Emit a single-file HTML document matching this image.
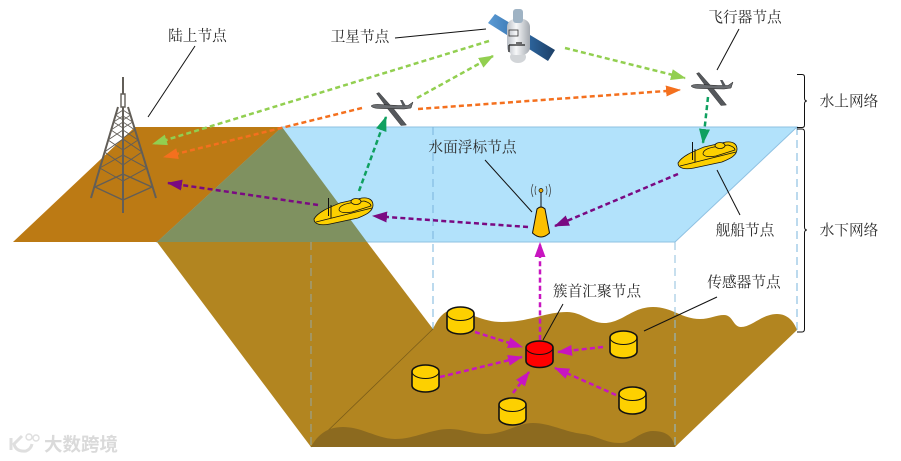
<!DOCTYPE html>
<html><head><meta charset="utf-8">
<style>
html,body{margin:0;padding:0;background:#fff;width:901px;height:461px;overflow:hidden}
svg{display:block;filter:blur(.35px)}
.t{font-family:"Liberation Serif","Noto Serif CJK SC",serif;font-size:14.700px;fill:#2c2c2c;text-anchor:middle}
.d{fill:none;stroke-width:2.500;stroke-dasharray:5 3.200}
.b{fill:none;stroke:#111;stroke-width:1}
</style></head><body>
<svg width="901" height="461" viewBox="0 0 901 461" xmlns="http://www.w3.org/2000/svg">
<defs>
<marker id="mL" markerUnits="userSpaceOnUse" markerWidth="16" markerHeight="12" refX="14" refY="5.500" orient="auto"><path d="M0 0L15 5.500L0 11Z" fill="#92cf50"/></marker>
<marker id="mO" markerUnits="userSpaceOnUse" markerWidth="16" markerHeight="12" refX="14" refY="5.500" orient="auto"><path d="M0 0L15 5.500L0 11Z" fill="#f4701e"/></marker>
<marker id="mG" markerUnits="userSpaceOnUse" markerWidth="16" markerHeight="12" refX="14" refY="5.500" orient="auto"><path d="M0 0L15 5.500L0 11Z" fill="#0fa060"/></marker>
<marker id="mP" markerUnits="userSpaceOnUse" markerWidth="16" markerHeight="12" refX="14" refY="5.500" orient="auto"><path d="M0 0L15 5.500L0 11Z" fill="#7a0a82"/></marker>
<marker id="mM" markerUnits="userSpaceOnUse" markerWidth="16" markerHeight="12" refX="14" refY="5.500" orient="auto"><path d="M0 0L15 5.500L0 11Z" fill="#c815c0"/></marker>
<linearGradient id="pan" x1="0" y1="0" x2="1" y2="0"><stop offset="0" stop-color="#5b9bd5"/><stop offset=".55" stop-color="#2f6aa5"/><stop offset="1" stop-color="#1d3f66"/></linearGradient>
<linearGradient id="bod" x1="0" y1="0" x2="1" y2="0"><stop offset="0" stop-color="#b8bdc4"/><stop offset=".4" stop-color="#f7f8f9"/><stop offset="1" stop-color="#a3a8af"/></linearGradient>
<g id="plane">
<path d="M376.500 93.500L379 92.500L391 106L393 108L406.500 125L401 125.500L387 108Z" fill="#55585c" stroke="#222" stroke-width=".4"/>
<path d="M371 106Q373 104 380 104.500L398 105.500L408 105.500L413 102L411 108L404 109L380 108.500Q373 108.500 371 106Z" fill="#6b6e72" stroke="#222" stroke-width=".5"/>
<path d="M400 100L402.500 100L406 106L403 106.500Z" fill="#55585c"/>
</g>
<g id="ship" stroke="#111" stroke-width=".8">
<path d="M314 219C318 212 328 208 340 203L362 198C370 197 373 201 373 205C373 212 365 215 358 218L330 224C320 226 314 224 314 219Z" fill="#fdd000"/>
<path d="M316 222L372 208" fill="none"/>
<path d="M339 210Q339 205 350 203L364 201Q371 203 371 206L352 212Q341 214 339 210Z" fill="#fdd000"/>
<ellipse cx="356" cy="201.500" rx="5" ry="3" fill="#fdd000"/>
<path d="M328.500 198V216M331 205V218" fill="none" stroke-width="1"/>
</g>
<g id="cyl">
<path d="M0 6.500V20.500C0 24 6 27 13.500 27S27 24 27 20.500V6.500C27 3 21 0 13.500 0S0 3 0 6.500Z" fill="#fdd000" stroke="#111" stroke-width="1.600"/>
<path d="M0 6.500C0 10.500 6 13.500 13.500 13.500S27 10.500 27 6.500" fill="none" stroke="#111" stroke-width="1"/>
</g>
</defs>

<rect width="901" height="461" fill="#fff"/>

<!-- water -->
<polygon points="282,127 797,127 675,242 157,242" fill="#b2e2fb" stroke="#8fc1e2" stroke-width="1"/>
<!-- land -->
<polygon points="135,127 282,127 157,242 13,242" fill="#bc7a14"/>
<!-- slope -->
<polygon points="157,242 367,242 433,329 311,447" fill="#b28520"/>
<!-- overlap -->
<polygon points="282,127 367,242 157,242" fill="#7f9160"/>

<!-- seabed -->
<path d="M311 447L433 329C438 318 444 311 452 310C470 312 482 322 502 322C530 322 545 312 567 312C582 312 590 323 604 323C622 323 632 307 653 307C672 307 682 319 700 319C710 319 716 315 724 315C733 315 733 327 741 327C752 327 762 314 777 314C788 314 794 322 797 330L675 447Z" fill="#b28520"/>
<path d="M311 447L433 329" stroke="#7a5c18" stroke-width=".8" fill="none"/>
<path d="M311 447C318 434 328 427 343 427C362 427 378 439 395 439C415 439 430 429 450 429C462 429 472 434 486 434C505 434 518 423 533 423C550 423 565 432 583 434C598 436 605 443 620 443C632 443 640 431 653 431C668 431 673 438 675 447Z" fill="#8c6a1f"/>

<!-- dashed verticals -->
<path d="M311 242V447" stroke="#a09a72" stroke-width="1.600" stroke-dasharray="8 5" fill="none"/>
<path d="M433 127V329" stroke="#79b4dc" stroke-width="1" stroke-dasharray="8 5" fill="none"/>
<path d="M675 242V447" stroke="#8fbfdc" stroke-width="1" stroke-dasharray="8 5" fill="none"/>
<path d="M797 127V330" stroke="#79b4dc" stroke-width="1" stroke-dasharray="8 5" fill="none"/>

<!-- braces -->
<path d="M797 74.500H802Q804.500 74.500 804.500 77V98Q804.500 101 807 101Q804.500 101 804.500 104V125Q804.500 127.500 802 127.500H797" class="b"/>
<path d="M797 129H802Q804.500 129 804.500 132V227Q804.500 230 807 230Q804.500 230 804.500 233V329Q804.500 332 802 332H797" class="b"/>

<!-- tower -->
<g fill="none" stroke="#625e58">
<path d="M123 77V94" stroke-width="2"/>
<path d="M121 94H125V107H121Z" stroke-width="1.400"/>
<path d="M118 107L91 198M128 107L156 198M123 107V213" stroke-width="2"/>
<path d="M95 187L123 200L152 187M95 187L123 174L152 187" stroke-width="1.300"/>
<path d="M99.700 168L123 181L147 168M99.700 168L123 155L147 168" stroke-width="1"/>
<path d="M104.500 152L123 165L142 152M104.500 152L123 139L142 152" stroke-width="1"/>
<path d="M108 140L123 150L138 140M108 140L123 130L138 140" stroke-width=".9"/>
<path d="M111 130L123 138L135 130M111 130L123 122L135 130" stroke-width=".8"/>
<path d="M113.500 122L123 128L132.700 122M113.500 122L123 116L132.700 122" stroke-width=".8"/>
<path d="M115.600 115L123 120L130.500 115M115.600 115L123 110L130.500 115" stroke-width=".8"/>
</g>

<!-- leader lines -->
<g stroke="#111" stroke-width="1" fill="none">
<path d="M195 46L148 117"/>
<path d="M395 38L486 29"/>
<path d="M739 29L717 70"/>
<path d="M485 160L532 212"/>
<path d="M717 170L740 215"/>
<path d="M563 304L543 340"/>
<path d="M717 297L644 331"/>
</g>

<!-- arrows -->
<path d="M489 41L153 144" class="d" stroke="#92cf50" marker-end="url(#mL)"/>
<path d="M417 98L493 56" class="d" stroke="#92cf50" marker-end="url(#mL)"/>
<path d="M565 48L685 78" class="d" stroke="#92cf50" marker-end="url(#mL)"/>
<path d="M362 108L164 157" class="d" stroke="#f4701e" marker-end="url(#mO)"/>
<path d="M418 109L680 90" class="d" stroke="#f4701e" marker-end="url(#mO)"/>
<path d="M359 191L386 117" class="d" stroke="#0fa060" marker-end="url(#mG)"/>
<path d="M708 97L703 143" class="d" stroke="#0fa060" marker-end="url(#mG)"/>
<path d="M318 205L168 183" class="d" stroke="#7a0a82" marker-end="url(#mP)"/>
<path d="M528 227L373 216" class="d" stroke="#7a0a82" marker-end="url(#mP)"/>
<path d="M678 174L555 226" class="d" stroke="#7a0a82" marker-end="url(#mP)"/>
<path d="M475 332L522 347" class="d" stroke="#c815c0" marker-end="url(#mM)"/>
<path d="M440 377L522 357" class="d" stroke="#c815c0" marker-end="url(#mM)"/>
<path d="M513 393L529 372" class="d" stroke="#c815c0" marker-end="url(#mM)"/>
<path d="M616 395L555 368" class="d" stroke="#c815c0" marker-end="url(#mM)"/>
<path d="M603 347L558 352" class="d" stroke="#c815c0" marker-end="url(#mM)"/>
<path d="M540 340L540 243" class="d" stroke="#c815c0" marker-end="url(#mM)"/>

<!-- satellite -->
<polygon points="488,23 495,14 555,50 548,61" fill="url(#pan)"/>
<ellipse cx="518" cy="57" rx="8" ry="6" fill="#d2d5d8"/>
<rect x="507" y="19" width="23" height="36" rx="8" fill="url(#bod)"/>
<rect x="513" y="9" width="10" height="14" rx="3" fill="#9fb3c4"/>
<rect x="509" y="30" width="9" height="6" fill="none" stroke="#333" stroke-width=".8"/>
<path d="M509 45H525M509 45V52M516 43H522" stroke="#222" stroke-width="1.300" fill="none"/>

<!-- aircraft -->
<use href="#plane"/>
<use href="#plane" x="320" y="-20"/>

<!-- ships -->
<use href="#ship"/>
<use href="#ship" x="364" y="-56"/>

<!-- buoy -->
<path d="M537 209Q541 205 545 209L549.500 233Q541 241 532.500 233Z" fill="#fdc000" stroke="#111" stroke-width="1"/>
<path d="M541 207V192" stroke="#111" stroke-width="1"/>
<circle cx="541" cy="190.500" r="2" fill="#e8a800" stroke="#111" stroke-width=".7"/>
<path d="M536 186Q534 190.500 536 195M546 186Q548 190.500 546 195M533 184Q530 190.500 533 197M549 184Q552 190.500 549 197" fill="none" stroke="#333" stroke-width=".7"/>

<!-- cylinders -->
<use href="#cyl" x="447" y="307"/>
<use href="#cyl" x="610" y="331"/>
<use href="#cyl" x="412" y="365"/>
<use href="#cyl" x="499" y="398"/>
<use href="#cyl" x="619" y="387"/>
<g transform="translate(526,341)">
<path d="M0 6.500V20C0 23.500 6 26.500 13.500 26.500S27 23.500 27 20V6.500C27 3 21 0 13.500 0S0 3 0 6.500Z" fill="#f00" stroke="#111" stroke-width="1.600"/>
<path d="M0 6.500C0 10.500 6 13.500 13.500 13.500S27 10.500 27 6.500" fill="none" stroke="#111" stroke-width="1"/>
</g>

<!-- labels -->
<text class="t" x="197.500" y="40.500">陆上节点</text>
<text class="t" x="360" y="41.500">卫星节点</text>
<text class="t" x="745" y="22">飞行器节点</text>
<text class="t" x="472.500" y="152">水面浮标节点</text>
<text class="t" x="745" y="235">舰船节点</text>
<text class="t" x="597" y="296">簇首汇聚节点</text>
<text class="t" x="744" y="287">传感器节点</text>
<text class="t" x="849" y="106">水上网络</text>
<text class="t" x="849" y="235">水下网络</text>

<!-- watermark -->
<g opacity=".9">
<path d="M11 438V450M22 436L14 444Q16 452 26 451Q31 449 32 444" fill="none" stroke="#dcdcdc" stroke-width="3"/>
<circle cx="29" cy="437" r="3" fill="none" stroke="#dcdcdc" stroke-width="1.400"/>
<circle cx="36" cy="438" r="3" fill="none" stroke="#dcdcdc" stroke-width="1.400"/>
<text x="44" y="451" font-family="'Liberation Sans','Noto Sans CJK SC',sans-serif" font-size="18.500" font-weight="700" fill="#d6d6d6">大数跨境</text>
</g>
</svg>
</body></html>
